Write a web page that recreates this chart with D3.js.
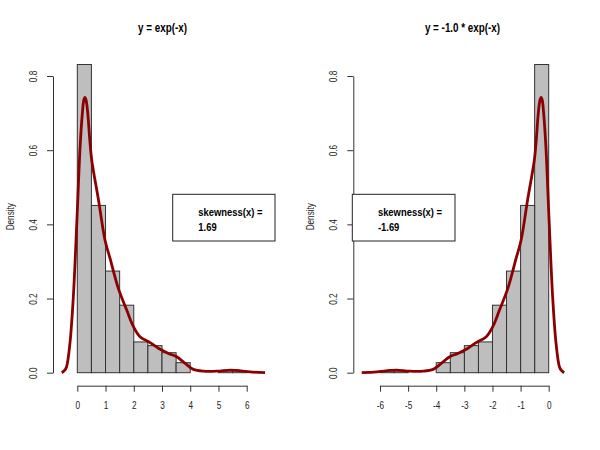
<!DOCTYPE html>
<html><head><meta charset="utf-8">
<script src="https://cdn.jsdelivr.net/npm/d3@7"></script>
<style>
body{margin:0;background:#fff;}
text{font-family:"Liberation Sans",Arial,sans-serif;}
</style></head>
<body><svg id="c" width="600" height="450"></svg>
<script>
// Histogram bins (left edge) and densities for y = exp(-x)
const binStarts = [0,0.5,1,1.5,2,2.5,3,3.5,4,4.5,5,5.5];
const binWidth = 0.5;
const binDensity = [0.831,0.451,0.274,0.182,0.083,0.073,0.054,0.027,0,0,0.005,0.005];
// Kernel density curve
const densX = [-0.55,-0.45,-0.38,-0.26,-0.14,-0.02,0.10,0.18,0.23,0.27,0.31,0.37,0.44,0.51,0.75,0.98,1.16,1.45,1.75,1.99,2.22,2.58,2.87,3.23,3.52,3.82,4.11,4.47,4.94,5.41,5.65,6.12,6.65];
const densY = [0.0,0.006,0.016,0.08,0.205,0.40,0.61,0.70,0.735,0.742,0.735,0.70,0.63,0.574,0.466,0.358,0.308,0.228,0.169,0.124,0.097,0.081,0.066,0.052,0.043,0.025,0.009,0.004,0.004,0.007,0.006,0.002,0.0];
const xTicksLeft = [0,1,2,3,4,5,6];
const xTicksRight = [-6,-5,-4,-3,-2,-1,0];
const yTicks = [0,0.2,0.4,0.6,0.8];
const titles = ["y = exp(-x)","y = -1.0 * exp(-x)"];
const skewLabels = ["1.69","-1.69"];

const NARROW = 0.82;
const svg = d3.select("#c");
const y = d3.scaleLinear().domain([0,0.8]).range([372.7,76]);

const panels = [
  {off:0, title:titles[0], skew:skewLabels[0], sign:1,
   x:d3.scaleLinear().domain([0,6]).range([77.3,246.7]), ticks:xTicksLeft, axisX:53, box:[172.7,194.3,102.3,46.7]},
  {off:300, title:titles[1], skew:skewLabels[1], sign:-1,
   x:d3.scaleLinear().domain([-6,0]).range([380,548.7]), ticks:xTicksRight, axisX:353.3, box:[352.3,194.3,102.7,46.7]}
];

panels.forEach(p=>{
  const g = svg.append("g");
  const x = p.x;
  // histogram
  const bins = binStarts.map((b,i)=>{
    const a = p.sign*b, c = p.sign*(b+binWidth);
    return {x0:Math.min(a,c), x1:Math.max(a,c), d:binDensity[i]};
  });
  g.selectAll("rect.bar").data(bins).enter().append("rect")
    .attr("x",d=>x(d.x0)).attr("width",d=>x(d.x1)-x(d.x0))
    .attr("y",d=>y(d.d)).attr("height",d=>y(0)-y(d.d))
    .attr("fill","#bebebe").attr("stroke","#333").attr("stroke-width",1);
  // density
  const pts = densX.map((v,i)=>[p.sign*v, densY[i]]);
  if(p.sign<0) pts.reverse();
  g.append("path").datum(pts)
    .attr("d", d3.line().x(d=>x(d[0])).y(d=>y(d[1])).curve(d3.curveCatmullRom))
    .attr("fill","none").attr("stroke","#8b0000").attr("stroke-width",2.8).attr("stroke-linejoin","round");
  // x axis
  const xa = g.append("g").attr("transform","translate(0,385.7)")
    .call(d3.axisBottom(x).tickValues(p.ticks).tickSize(6).tickSizeOuter(0).tickFormat(d=>String(d)));
  xa.select(".domain").attr("stroke","#333");
  xa.selectAll(".tick line").attr("stroke","#333");
  xa.selectAll("text").attr("font-size",10).attr("fill","#222").attr("y",0).attr("dy",0)
    .attr("transform",`translate(0,23.5) scale(${NARROW},1)`)
    .style("font-family","'Liberation Sans',Arial,sans-serif");
  // y axis
  const ya = g.append("g").attr("transform",`translate(${p.axisX},0)`)
    .call(d3.axisLeft(y).tickValues(yTicks).tickSize(6).tickSizeOuter(0).tickFormat(d3.format(".1f")));
  ya.select(".domain").attr("stroke","#333");
  ya.selectAll(".tick line").attr("stroke","#333");
  ya.selectAll("text").attr("font-size",10).attr("fill","#222")
    .attr("x",0).attr("dy",0).attr("transform",`translate(-16,0) rotate(-90) scale(${NARROW},1)`)
    .attr("text-anchor","middle")
    .style("font-family","'Liberation Sans',Arial,sans-serif");
  // y label
  g.append("text").attr("transform",`translate(${p.off+13.5},216.7) rotate(-90) scale(${NARROW},1)`)
    .attr("text-anchor","middle").attr("font-size",10).attr("fill","#222").text("Density");
  // title
  g.append("text").attr("transform",`translate(${p.off+162.5},31.5) scale(${NARROW},1)`).attr("text-anchor","middle")
    .attr("font-size",12).attr("font-weight","bold").text(p.title);
  // legend box
  const b = p.box;
  g.append("rect").attr("x",b[0]).attr("y",b[1]).attr("width",b[2]).attr("height",b[3])
    .attr("fill","#fff").attr("stroke","#222").attr("stroke-width",1);
  g.append("text").attr("transform",`translate(${b[0]+25.6},215.5) scale(${NARROW},1)`)
    .attr("font-size",11.5).attr("font-weight","bold").text("skewness(x) =");
  g.append("text").attr("transform",`translate(${b[0]+25.6},230.5) scale(${NARROW},1)`)
    .attr("font-size",11.5).attr("font-weight","bold").text(p.skew);
});
</script></body></html>
